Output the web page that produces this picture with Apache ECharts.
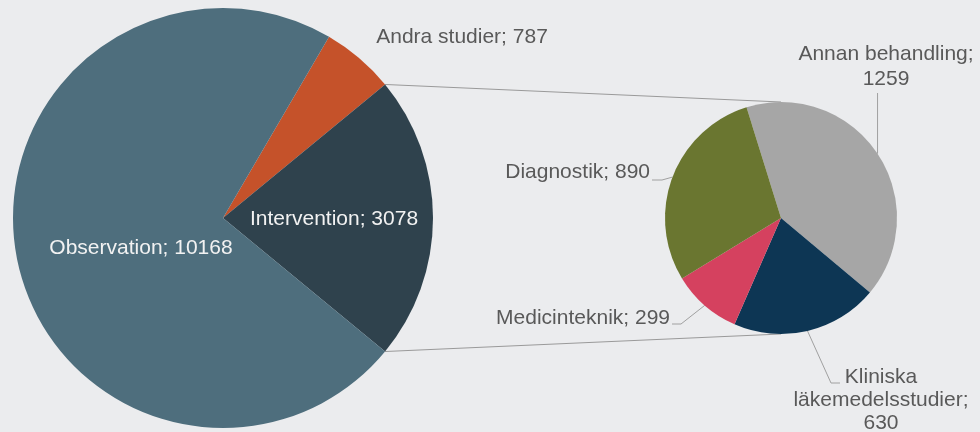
<!DOCTYPE html>
<html><head><meta charset="utf-8">
<script src="https://cdn.jsdelivr.net/npm/echarts@6/dist/echarts.min.js"></script>
<style>html,body{margin:0;padding:0;background:#ebecee}#c{width:980px;height:432px}</style>
</head><body><div id="c"></div>
<script>
// ---- data ----
const mainNames = ['Andra studier', 'Intervention', 'Observation'];
const mainValues = [787, 3078, 10168];
const mainLabels = ['Andra studier; 787', 'Intervention; 3078', 'Observation; 10168'];
const subNames = ['Annan behandling', 'Kliniska läkemedelsstudier', 'Medicinteknik', 'Diagnostik'];
const subValues = [1259, 630, 299, 890];
const subLabels = ['Annan behandling;\n1259', 'Kliniska\nläkemedelsstudier;\n630', 'Medicinteknik; 299', 'Diagnostik; 890'];

// ---- styles ----
const mainColors = ['#c5522a', '#2f424d', '#4e6e7d'];
const subColors = ['#a6a6a6', '#0d3654', '#d5415f', '#6a7630'];
const FONT = "'Liberation Sans', Arial, sans-serif";
const TXT = '#595959';

const total = mainValues.reduce((a, b) => a + b, 0);
// Intervention centred on 3 o'clock
const mainStart = mainValues[1] / total * 180 + mainValues[0] / total * 360;

const mainLabelPos = [[462, 37, 'center'], [334, 219, 'center'], [141, 248, 'center']];
const subLabelPos = [[886, 67, 'center'], [881, 400, 'center'], [670, 318, 'right'], [650, 172, 'right']];
const subLeaders = [
  p => [p, [p[0], 120], [p[0], 93]],
  p => [p, [831, 383], [840, 383]],
  p => [p, [681, 324], [672, 324]],
  p => [p, [662, 180], [652, 180]]
];

const chart = echarts.init(document.getElementById('c'), null, {renderer: 'canvas'});
chart.setOption({
  backgroundColor: '#ebecee',
  animation: false,
  textStyle: {fontFamily: FONT},
  series: [{
    type: 'pie',
    center: [223, 218],
    radius: [0, 210],
    startAngle: mainStart,
    clockwise: true,
    avoidLabelOverlap: false,
    silent: true,
    itemStyle: {borderWidth: 0},
    label: {
      show: true, position: 'inside', fontFamily: FONT, fontSize: 21,
      formatter: p => mainLabels[p.dataIndex]
    },
    labelLine: {show: false},
    labelLayout: p => {
      const q = mainLabelPos[p.dataIndex];
      return {x: q[0], y: q[1], align: q[2], verticalAlign: 'middle'};
    },
    data: mainNames.map((n, i) => ({
      name: n, value: mainValues[i],
      itemStyle: {color: mainColors[i]},
      label: {color: i === 0 ? TXT : '#f2f2f2'}
    }))
  }, {
    type: 'pie',
    center: [781, 218],
    radius: [0, 116],
    startAngle: 107.3,
    clockwise: true,
    avoidLabelOverlap: false,
    silent: true,
    itemStyle: {borderWidth: 0},
    label: {
      show: true, position: 'outside', fontFamily: FONT, fontSize: 21,
      color: TXT, lineHeight: 24,
      formatter: p => subLabels[p.dataIndex]
    },
    labelLine: {show: true, length: 10, length2: 10, lineStyle: {color: '#a0a0a0', width: 1}},
    labelLayout: p => {
      const i = p.dataIndex;
      const q = subLabelPos[i];
      let p0 = p.labelLinePoints && p.labelLinePoints[0];
      if (!p0) {
        const lay = chart.getModel().getSeriesByIndex(1).getData().getItemLayout(i);
        const a = (lay.startAngle + lay.endAngle) / 2;
        p0 = [lay.cx + lay.r * Math.cos(a), lay.cy + lay.r * Math.sin(a)];
      }
      return {x: q[0], y: q[1], align: q[2], verticalAlign: 'middle',
              labelLinePoints: subLeaders[i]([p0[0], p0[1]])};
    },
    data: subNames.map((n, i) => ({
      name: n, value: subValues[i],
      itemStyle: {color: subColors[i]},
      label: {lineHeight: i === 1 ? 23 : 25}
    }))
  }]
});

// connector lines between the Intervention slice and the secondary pie
const mainLay = chart.getModel().getSeriesByIndex(0).getData().getItemLayout(1);
const subLay = chart.getModel().getSeriesByIndex(1).getData().getItemLayout(0);
const ptA = [mainLay.cx + mainLay.r * Math.cos(mainLay.startAngle), mainLay.cy + mainLay.r * Math.sin(mainLay.startAngle)];
const ptB = [mainLay.cx + mainLay.r * Math.cos(mainLay.endAngle), mainLay.cy + mainLay.r * Math.sin(mainLay.endAngle)];
const upperPt = ptA[1] < ptB[1] ? ptA : ptB;
const lowerPt = ptA[1] < ptB[1] ? ptB : ptA;
chart.setOption({
  graphic: [
    {type: 'line', silent: true, z: 1, shape: {x1: upperPt[0], y1: upperPt[1], x2: subLay.cx, y2: subLay.cy - subLay.r}, style: {stroke: '#9a9a9a', lineWidth: 1}},
    {type: 'line', silent: true, z: 1, shape: {x1: lowerPt[0], y1: lowerPt[1], x2: subLay.cx, y2: subLay.cy + subLay.r}, style: {stroke: '#9a9a9a', lineWidth: 1}}
  ]
});
</script>
</body></html>
